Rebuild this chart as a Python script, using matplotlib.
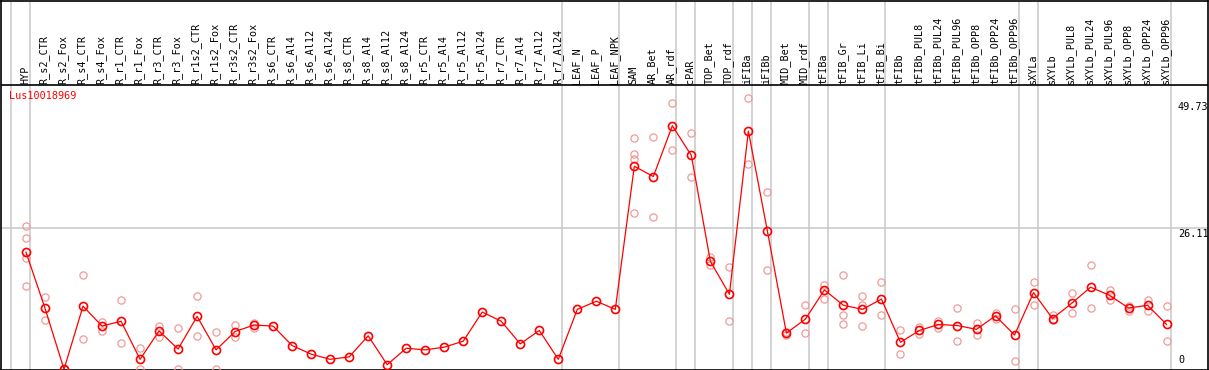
import matplotlib
matplotlib.use('Agg')
import matplotlib.pyplot as plt

gene = 'Lus10018969'

samples = ['HYP', 'R_s2_CTR', 'R_s2_Fox', 'R_s4_CTR', 'R_s4_Fox', 'R_r1_CTR', 'R_r1_Fox',
           'R_r3_CTR', 'R_r3_Fox', 'R_r1s2_CTR', 'R_r1s2_Fox', 'R_r3s2_CTR', 'R_r3s2_Fox',
           'R_s6_CTR', 'R_s6_Al4', 'R_s6_Al12', 'R_s6_Al24', 'R_s8_CTR', 'R_s8_Al4',
           'R_s8_Al12', 'R_s8_Al24', 'R_r5_CTR', 'R_r5_Al4', 'R_r5_Al12', 'R_r5_Al24',
           'R_r7_CTR', 'R_r7_Al4', 'R_r7_Al12', 'R_r7_Al24', 'LEAF_N', 'LEAF_P', 'LEAF_NPK',
           'SAM', 'AR_Bet', 'AR_rdf', 'cPAR', 'TOP_Bet', 'TOP_rdf', 'iFIBa', 'iFIBb',
           'MID_Bet', 'MID_rdf', 'tFIBa', 'tFIB_Gr', 'tFIB_Li', 'tFIB_Bi', 'tFIBb',
           'tFIBb_PUL8', 'tFIBb_PUL24', 'tFIBb_PUL96', 'tFIBb_OPP8', 'tFIBb_OPP24',
           'tFIBb_OPP96', 'sXYLa', 'sXYLb', 'sXYLb_PUL8', 'sXYLb_PUL24', 'sXYLb_PUL96',
           'sXYLb_OPP8', 'sXYLb_OPP24', 'sXYLb_OPP96']

means = [21.7, 11.3, 0.0, 11.7, 8.0, 8.9, 1.85, 7.1, 3.75, 9.8, 3.6, 7.0, 8.2,
         8.0, 4.4, 2.8, 1.85, 2.3, 6.2, 0.85, 3.9, 3.6, 4.1, 5.2, 10.6,
         8.9, 4.7, 7.2, 1.85, 11.1, 12.6, 11.1,
         37.6, 35.7, 45.1, 39.6, 20.0, 13.9, 44.1, 25.6,
         6.7, 9.3, 14.7, 11.85, 11.1, 13.0, 5.0,
         7.2, 8.3, 8.1, 7.4, 9.9, 6.35,
         14.2, 9.4, 12.2, 15.2, 13.7, 11.35, 11.85, 8.3]

replicates = [[26.5, 24.4, 20.6, 15.4], [13.4, 9.1], [0.0], [17.4, 5.7], [8.7, 7.1],
              [12.8, 4.8], [3.9, 0.0], [8.1, 6.0], [7.6, 0.0], [13.5, 6.1], [7.0, 0.0],
              [8.2, 6.0], [8.6, 7.6],
              [], [], [], [], [], [], [], [], [], [], [], [], [], [], [], [], [], [], [],
              [42.8, 39.9, 38.9, 28.9], [43.1, 28.2], [49.4, 40.6], [43.8, 35.7],
              [20.8, 19.3], [18.9, 8.9], [50.2, 38.0], [32.8, 18.3],
              [6.9, 6.3], [11.85, 6.7], [15.6, 13.1], [17.4, 10.0, 8.45], [13.5, 11.9, 8.0],
              [16.1, 10.0], [7.2, 2.8],
              [7.9, 6.5], [9.0, 7.6], [11.35, 5.2], [8.5, 6.35], [10.4, 9.4], [11.2, 1.5],
              [16.1, 12.0], [10.05, 9.1], [14.1, 10.4], [19.3, 11.3], [14.7, 12.9],
              [11.7, 10.85], [12.8, 10.85], [11.7, 5.2]]

# last sample index of each group (vertical separators)
group_ends = [-1, 0, 28, 31, 34, 35, 37, 38, 39, 41, 42, 45, 52, 53, 60]

ytick_values = [49.73, 26.11, 0]

# pixel geometry of the reference
W, H = 1209, 370
x_first, x_step = 26.0, 19.01
y_zero, y_scale = 369.3, 5.40
L, R, T, B = 1.0, 1208.0, 0.5, 369.5

fig = plt.figure(figsize=(W / 100, H / 100), dpi=100)
ax = fig.add_axes([L / W, 1 - B / H, (R - L) / W, (B - T) / H])
ax.set_xlim((L - x_first) / x_step, (R - x_first) / x_step)
ax.set_ylim((y_zero - B) / y_scale, (y_zero - T) / y_scale)
ax.set_xticks([])
ax.set_yticks([])
for sp in ax.spines.values():
    sp.set_color('black')
    sp.set_linewidth(1.2)

header_y = (y_zero - 85.3) / y_scale
label_y = (y_zero - 83.5) / y_scale

for g in group_ends:
    ax.axvline(g + 0.21, color='#c8c8c8', lw=1.1, zorder=1)
ax.axhline(ytick_values[1], color='#c8c8c8', lw=1.1, zorder=1)
ax.axhline(header_y, color='black', lw=1.2, zorder=2)

xs = list(range(len(samples)))
for i, reps in enumerate(replicates):
    if reps:
        ax.plot([i] * len(reps), reps, 'o', ms=5.2, mfc='none', mec='#f09a9a',
                mew=0.9, zorder=3, clip_on=False)

ax.plot(xs, means, '-', color='red', lw=0.9, zorder=4, clip_on=False)
ax.plot(xs, means, 'o', ms=5.8, mfc='none', mec='red', mew=1.2, zorder=5, clip_on=False)

mono = 'DejaVu Sans Mono'
for i, s in enumerate(samples):
    ax.text(i - 0.05, label_y, s, rotation=90, ha='center', va='bottom',
            fontsize=7.3, family=mono, color='black')

fig.text(9 / W, 1 - 91 / H, gene, color='red', fontsize=7.3, family=mono,
         ha='left', va='top')

lab_x = (1178 - x_first) / x_step
ax.text(lab_x, ytick_values[0] - 0.2, '49.73', fontsize=7.3, family=mono, ha='left', va='top')
ax.text(lab_x, ytick_values[1] - 0.2, '26.11', fontsize=7.3, family=mono, ha='left', va='top')
ax.text(lab_x, 0.8, '0', fontsize=7.3, family=mono, ha='left', va='bottom')

fig.savefig('out.png', dpi=100)
